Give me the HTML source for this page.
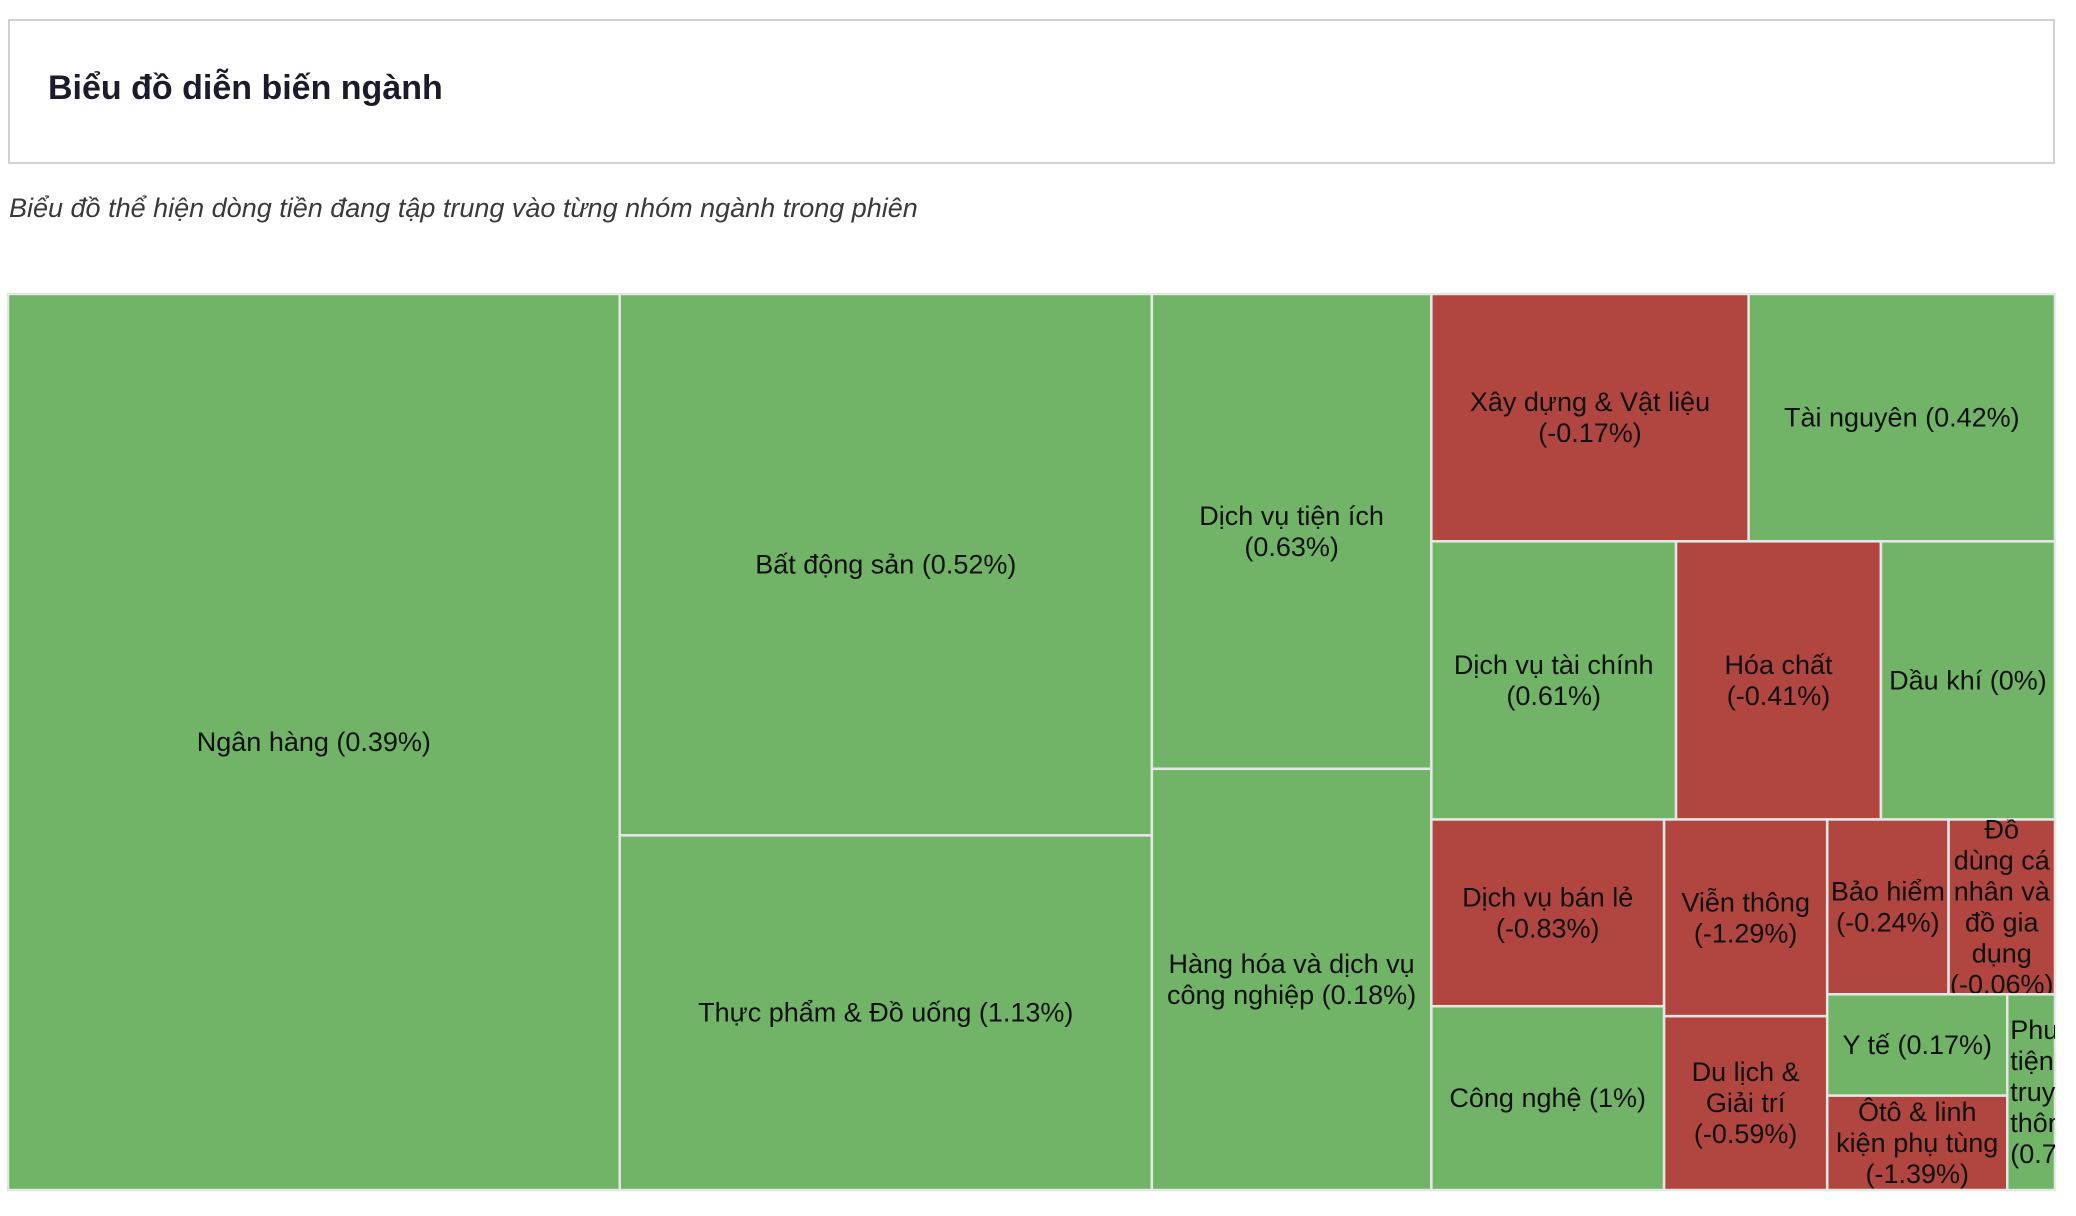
<!DOCTYPE html>
<html><head><meta charset="utf-8">
<style>
html,body{margin:0;padding:0;background:#fff;width:2076px;height:1216px;overflow:hidden;font-family:"Liberation Sans",sans-serif;}
#hdr{position:absolute;left:8px;top:19px;width:2043px;height:141px;border:2px solid #d2d2d6;box-sizing:content-box;}
#title{position:absolute;left:38px;top:48px;font-size:34px;font-weight:bold;color:#1b1b2b;margin:0;}
#sub{position:absolute;left:9px;top:193px;font-size:27px;font-style:italic;color:#3a3a3a;margin:0;}
svg{position:absolute;left:0;top:0;}
</style></head><body>
<div id="hdr"><h1 id="title">Biểu đồ diễn biến ngành</h1></div>
<p id="sub">Biểu đồ thể hiện dòng tiền đang tập trung vào từng nhóm ngành trong phiên</p>
<svg id="chart" width="2076" height="1216"></svg>
<script>
const sectorNames = ["Ngân hàng","Bất động sản","Thực phẩm & Đồ uống","Dịch vụ tiện ích","Hàng hóa và dịch vụ công nghiệp","Xây dựng & Vật liệu","Tài nguyên","Dịch vụ tài chính","Hóa chất","Dầu khí","Dịch vụ bán lẻ","Công nghệ","Viễn thông","Du lịch & Giải trí","Bảo hiểm","Đồ dùng cá nhân và đồ gia dụng","Y tế","Ôtô & linh kiện phụ tùng","Phương tiện truyền thông"];
const sectorLabels = ["Ngân hàng (0.39%)","Bất động sản (0.52%)","Thực phẩm & Đồ uống (1.13%)","Dịch vụ tiện ích|(0.63%)","Hàng hóa và dịch vụ|công nghiệp (0.18%)","Xây dựng & Vật liệu|(-0.17%)","Tài nguyên (0.42%)","Dịch vụ tài chính|(0.61%)","Hóa chất|(-0.41%)","Dầu khí (0%)","Dịch vụ bán lẻ|(-0.83%)","Công nghệ (1%)","Viễn thông|(-1.29%)","Du lịch &|Giải trí|(-0.59%)","Bảo hiểm|(-0.24%)","Đồ|dùng cá|nhân và|đồ gia|dụng|(-0.06%)","Y tế (0.17%)","Ôtô & linh|kiện phụ tùng|(-1.39%)","Phương|tiện|truyền|thông|(0.75%)"];
const sectorChange = [0.39,0.52,1.13,0.63,0.18,-0.17,0.42,0.61,-0.41,0,-0.83,1,-1.29,-0.59,-0.24,-0.06,0.17,-1.39,0.75];
const sectorValue = [554730,291575,190995,134318,119144,79431,76692,68880,57680,49000,43992,43290,32472,28700,21472,18832,18462,17195,9456];

const tree = {d:'h',c:[0,{d:'v',c:[1,2]},{d:'v',c:[3,4]},
  {d:'v',c:[{d:'h',c:[5,6]},{d:'h',c:[7,8,9]},
    {d:'h',c:[{d:'v',c:[10,11]},{d:'v',c:[12,13]},
      {d:'v',c:[{d:'h',c:[14,15]},{d:'h',c:[{d:'v',c:[16,17]},18]}]}]}]}]};
const X0=8,Y0=294,X1=2055,Y1=1190;
function total(n){return typeof n==='number'?sectorValue[n]:n.c.reduce((s,k)=>s+total(k),0);}
const rects=[];
function layout(n,x,y,w,h){
  if(typeof n==='number'){rects[n]={x,y,w,h};return;}
  const t=total(n);let off=0;
  n.c.forEach(k=>{const f=total(k)/t;
    if(n.d==='h'){layout(k,x+off,y,w*f,h);off+=w*f;}else{layout(k,x,y+off,w,h*f);off+=h*f;}});
}
layout(tree,X0,Y0,X1-X0,Y1-Y0);
const NS='http://www.w3.org/2000/svg';
const svg=document.getElementById('chart');
const defs=document.createElementNS(NS,'defs');svg.appendChild(defs);
const cv=document.createElement('canvas').getContext('2d');cv.font='27px "Liberation Sans"';
rects.forEach((r,i)=>{
  const g=document.createElementNS(NS,'g');
  
  
  const cp=document.createElementNS(NS,'clipPath');cp.setAttribute('id','cp'+i);
  const cr=document.createElementNS(NS,'rect');cr.setAttribute('x',r.x);cr.setAttribute('y',r.y);cr.setAttribute('width',r.w);cr.setAttribute('height',r.h);
  cp.appendChild(cr);defs.appendChild(cp);
  const rc=document.createElementNS(NS,'rect');
  
  
  rc.setAttribute('x',r.x);rc.setAttribute('y',r.y);rc.setAttribute('width',r.w);rc.setAttribute('height',r.h);
  rc.setAttribute('fill',sectorChange[i]<0?'#b0463f':'#71b367');
  rc.setAttribute('stroke','#e4e8e4');rc.setAttribute('stroke-width','2.5');
  g.appendChild(rc);
  const lines=sectorLabels[i].split('|');
  const narrow=r.w<60;
  const lh=31;const cy=r.y+r.h/2-(lines.length-1)*lh/2;
  const tx=document.createElementNS(NS,'text');
  
  
  tx.setAttribute('clip-path','url(#cp'+i+')');
  tx.setAttribute('font-family','"Liberation Sans",sans-serif');tx.setAttribute('font-size','27');tx.setAttribute('fill','#111');
  tx.setAttribute('text-anchor',narrow?'start':'middle');
  lines.forEach((ln,j)=>{const ts=document.createElementNS(NS,'tspan');
    ts.setAttribute('x',narrow?r.x+3:r.x+r.w/2);ts.setAttribute('y',cy+j*lh+9);ts.textContent=ln;tx.appendChild(ts);});
  g.appendChild(tx);
  const ti=document.createElementNS(NS,'title');ti.textContent=sectorNames[i];g.appendChild(ti);
  svg.appendChild(g);
});
</script>
</body></html>
